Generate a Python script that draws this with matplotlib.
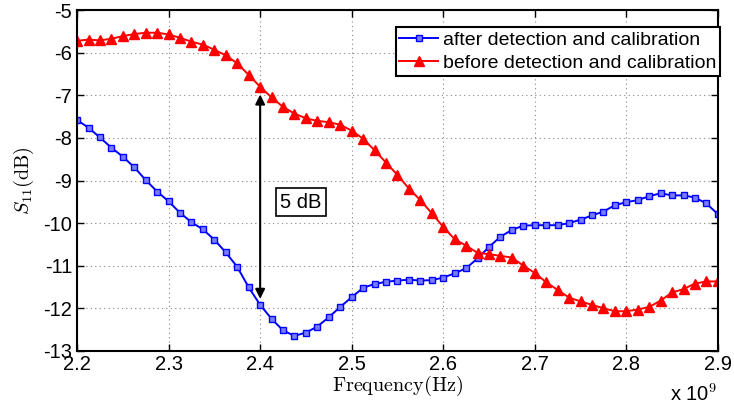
import matplotlib
matplotlib.use('Agg')
import matplotlib.pyplot as plt
import numpy as np
from matplotlib.ticker import FuncFormatter

plt.rcParams['font.family'] = ['Liberation Sans', 'DejaVu Sans']
plt.rcParams['mathtext.fontset'] = 'cm'
plt.rcParams['axes.unicode_minus'] = False

# frequency points, 2.2 GHz .. 2.9 GHz in 12.5 MHz steps
freq = 2.2e9 + 12.5e6 * np.arange(57)

after = [-7.58, -7.76, -7.99, -8.23, -8.44, -8.69, -8.99, -9.26, -9.49, -9.76,
         -9.98, -10.15, -10.39, -10.69, -11.03, -11.51, -11.92, -12.25, -12.52, -12.65,
         -12.57, -12.43, -12.21, -11.97, -11.74, -11.52, -11.43, -11.38, -11.35, -11.33,
         -11.35, -11.34, -11.28, -11.18, -11.06, -10.83, -10.56, -10.32, -10.16, -10.06,
         -10.05, -10.05, -10.05, -10.00, -9.92, -9.82, -9.73, -9.58, -9.51, -9.46,
         -9.37, -9.30, -9.35, -9.35, -9.40, -9.54, -9.79]

before = [-5.72, -5.69, -5.71, -5.67, -5.61, -5.56, -5.53, -5.53, -5.57, -5.65,
          -5.74, -5.81, -5.93, -6.06, -6.25, -6.52, -6.80, -7.05, -7.27, -7.43,
          -7.54, -7.60, -7.63, -7.69, -7.83, -8.02, -8.29, -8.58, -8.87, -9.19,
          -9.46, -9.77, -10.09, -10.38, -10.53, -10.70, -10.73, -10.77, -10.81, -11.00,
          -11.17, -11.39, -11.57, -11.75, -11.84, -11.92, -12.00, -12.07, -12.07, -12.03,
          -11.97, -11.82, -11.63, -11.55, -11.42, -11.37, -11.37]

fig = plt.figure(figsize=(7.34, 4.07), dpi=100)
ax = fig.add_axes([0.105, 0.138, 0.873, 0.837])

ax.plot(freq, after, color='blue', lw=1.4, marker='s', ms=4.2,
        mfc='#7b7bff', mec='blue', mew=1.0, label='after detection and calibration')
ax.plot(freq, before, color='red', lw=1.4, marker='^', ms=6.5,
        mfc='red', mec='red', label='before detection and calibration')

ax.set_xlim(2.2e9, 2.9e9)
ax.set_ylim(-13, -5)
ax.set_xticks(np.arange(2.2e9, 2.95e9, 0.1e9))
ax.set_yticks(np.arange(-13, -4, 1))
ax.xaxis.set_major_formatter(FuncFormatter(lambda v, p: f'{v / 1e9:.1f}'))
ax.tick_params(direction='in', top=True, right=True, labelsize=14.5, length=5, width=1)
ax.tick_params(axis='x', pad=3)
ax.grid(True, color='#888888', linestyle=(0, (1, 3)), linewidth=0.8)
for s in ax.spines.values():
    s.set_linewidth(1.5)

ax.set_xlabel(r'$\mathrm{Frequency(Hz)}$', fontsize=14.5, labelpad=0)
ax.set_ylabel(r'$S_{11}\mathrm{(dB)}$', fontsize=14.5, labelpad=5)
ax.text(1.0, -0.148, r'x 10$^{9}$', transform=ax.transAxes, ha='right',
        va='baseline', fontsize=14.5)

# 5 dB arrow
ax.annotate('', xy=(2.4e9, -6.98), xytext=(2.4e9, -11.78),
            arrowprops=dict(arrowstyle='<|-|>', color='black', lw=1.5,
                            mutation_scale=14, shrinkA=0, shrinkB=0))
ax.text(2.4445e9, -9.51, '5 dB', fontsize=14.5, ha='center', va='center',
        bbox=dict(boxstyle='square,pad=0.22', fc='white', ec='black', lw=1.2))

leg = ax.legend(loc='upper right', bbox_to_anchor=(1.004, 0.95), fontsize=14,
                fancybox=False, edgecolor='black', framealpha=1,
                borderpad=0.2, labelspacing=0.3, handlelength=2.0,
                handletextpad=0.25, borderaxespad=0)
leg.get_frame().set_linewidth(1.5)

fig.savefig('out.png', dpi=100)
